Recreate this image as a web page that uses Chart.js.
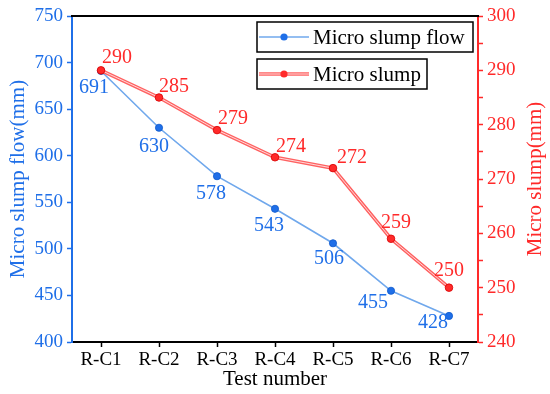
<!DOCTYPE html>
<html lang="en">
<head>
  <meta charset="UTF-8"/>
  <title>Micro slump</title>
  <script src="https://cdn.jsdelivr.net/npm/chart.js"></script>
  <style>
    * { margin: 0; padding: 0; }
    body { background: #fff; }
    #wrap { width: 550px; height: 394px; }
  </style>
</head>
<body>
<div id="wrap"><canvas id="c" width="550" height="394"></canvas></div>
<script>
  // data
  const tests      = ['R-C1', 'R-C2', 'R-C3', 'R-C4', 'R-C5', 'R-C6', 'R-C7'];
  const slumpFlow  = [691, 630, 578, 543, 506, 455, 428];
  const slump      = [290, 285, 279, 274, 272, 259, 250];
  const flowTicks  = [400, 450, 500, 550, 600, 650, 700, 750];
  const slumpTicks = [240, 250, 260, 270, 280, 290, 300];

  const BLUE = '#1f6fe8', BLUE_LINE = '#70a8ec';
  const RED = '#ff2a2a', RED_LINE = '#ff6262';
  const SERIF = "'Liberation Serif', 'DejaVu Serif', 'Times New Roman', Times, serif";

  // label nudges (px) per point
  const flowNudge  = [[-7, 17], [-5, 19], [-6, 18], [-6, 17], [-4, 15], [-18, 12], [-16, 7]];
  const slumpNudge = [[16, -13], [15, -11], [16, -11], [16, -11], [19, -10], [5, -16], [0, -17]];

  const decor = {
    id: 'decor',
    afterDraw(chart) {
      const { ctx, chartArea: a } = chart;
      ctx.save();
      // top frame line
      ctx.strokeStyle = '#000'; ctx.lineWidth = 2;
      ctx.beginPath(); ctx.moveTo(a.left - 1, a.top); ctx.lineTo(a.right + 1, a.top); ctx.stroke();

      ctx.font = '20px ' + SERIF;
      ctx.textAlign = 'center'; ctx.textBaseline = 'middle';
      // value labels
      const mf = chart.getDatasetMeta(0), ms = chart.getDatasetMeta(3);
      ctx.fillStyle = BLUE;
      mf.data.forEach((p, i) => ctx.fillText(slumpFlow[i], p.x + flowNudge[i][0], p.y + flowNudge[i][1]));
      ctx.fillStyle = RED;
      ms.data.forEach((p, i) => ctx.fillText(slump[i], p.x + slumpNudge[i][0], p.y + slumpNudge[i][1]));

      // axis titles
      ctx.font = '21px ' + SERIF;
      ctx.fillStyle = '#000';
      ctx.fillText('Test number', (a.left + a.right) / 2, 379);
      ctx.save(); ctx.translate(18, (a.top + a.bottom) / 2); ctx.rotate(-Math.PI / 2);
      ctx.fillStyle = BLUE; ctx.fillText('Micro slump flow(mm)', 0, 0); ctx.restore();
      ctx.save(); ctx.translate(535, (a.top + a.bottom) / 2); ctx.rotate(-Math.PI / 2);
      ctx.fillStyle = RED; ctx.fillText('Micro slump(mm)', 0, 0); ctx.restore();

      // legend boxes
      const items = [
        { text: 'Micro slump flow', y: 22, w: 216, line: BLUE_LINE, dot: BLUE, inner: null },
        { text: 'Micro slump', y: 59, w: 170, line: RED_LINE, dot: RED, inner: '#ffd9d9' }
      ];
      items.forEach(it => {
        const x0 = 257, h = 30, cy = it.y + h / 2;
        ctx.strokeStyle = '#000'; ctx.lineWidth = 1.5;
        ctx.strokeRect(x0, it.y, it.w, h);
        ctx.strokeStyle = it.line; ctx.lineWidth = it.inner ? 3.5 : 1.5;
        ctx.beginPath(); ctx.moveTo(x0 + 2, cy); ctx.lineTo(x0 + 52, cy); ctx.stroke();
        if (it.inner) {
          ctx.strokeStyle = it.inner; ctx.lineWidth = 1;
          ctx.beginPath(); ctx.moveTo(x0 + 2, cy); ctx.lineTo(x0 + 52, cy); ctx.stroke();
        }
        ctx.fillStyle = it.dot;
        ctx.beginPath(); ctx.arc(x0 + 27, cy, 3.6, 0, Math.PI * 2); ctx.fill();
        ctx.font = '21px ' + SERIF; ctx.textAlign = 'left';
        ctx.fillStyle = '#000';
        ctx.fillText(it.text, x0 + 56, cy + 1);
      });
      ctx.restore();
    }
  };

  new Chart(document.getElementById('c'), {
    type: 'line',
    data: {
      labels: tests,
      datasets: [
        { data: slumpFlow, yAxisID: 'y', borderColor: BLUE_LINE, borderWidth: 1.6,
          pointRadius: 3.6, pointBackgroundColor: BLUE, pointBorderColor: '#0d58cc', pointBorderWidth: 0.8,
          tension: 0, order: 4 },
        { data: slump, yAxisID: 'y1', borderColor: RED_LINE, borderWidth: 3.6, pointRadius: 0, tension: 0, order: 3 },
        { data: slump, yAxisID: 'y1', borderColor: '#ffd9d9', borderWidth: 1, pointRadius: 0, tension: 0, order: 2 },
        { data: slump, yAxisID: 'y1', showLine: false, pointRadius: 3.8, pointBackgroundColor: RED,
          pointBorderColor: '#d80000', pointBorderWidth: 0.8, order: 1 }
      ]
    },
    options: {
      responsive: false,
      animation: false,
      layout: { padding: { top: 16, left: 0, right: 0, bottom: 0 } },
      plugins: { legend: { display: false }, tooltip: { enabled: false } },
      scales: {
        x: {
          offset: true,
          afterFit: s => { s.height = 52; },
          grid: { offset: false, drawOnChartArea: false, tickLength: 5, color: '#000', tickWidth: 1.5 },
          border: { color: '#000', width: 2 },
          ticks: { color: '#000', font: { family: SERIF, size: 19 }, padding: 2, maxRotation: 0 }
        },
        y: {
          position: 'left', min: flowTicks[0], max: flowTicks[flowTicks.length - 1],
          afterFit: s => { s.width = 72; },
          grid: { drawOnChartArea: false, tickLength: 5, color: BLUE, tickWidth: 1.5 },
          border: { color: BLUE, width: 2 },
          ticks: { stepSize: 25, color: BLUE, padding: 4, font: { family: SERIF, size: 19 },
            callback: v => flowTicks.includes(v) ? v : '' }
        },
        y1: {
          position: 'right', min: slumpTicks[0], max: slumpTicks[slumpTicks.length - 1],
          afterFit: s => { s.width = 72; },
          grid: { drawOnChartArea: false, tickLength: 5, color: RED, tickWidth: 1.5 },
          border: { color: RED, width: 2 },
          ticks: { stepSize: 5, color: RED, padding: 4, font: { family: SERIF, size: 19 },
            callback: v => slumpTicks.includes(v) ? v : '' }
        }
      }
    },
    plugins: [decor]
  });
</script>
</body>
</html>
